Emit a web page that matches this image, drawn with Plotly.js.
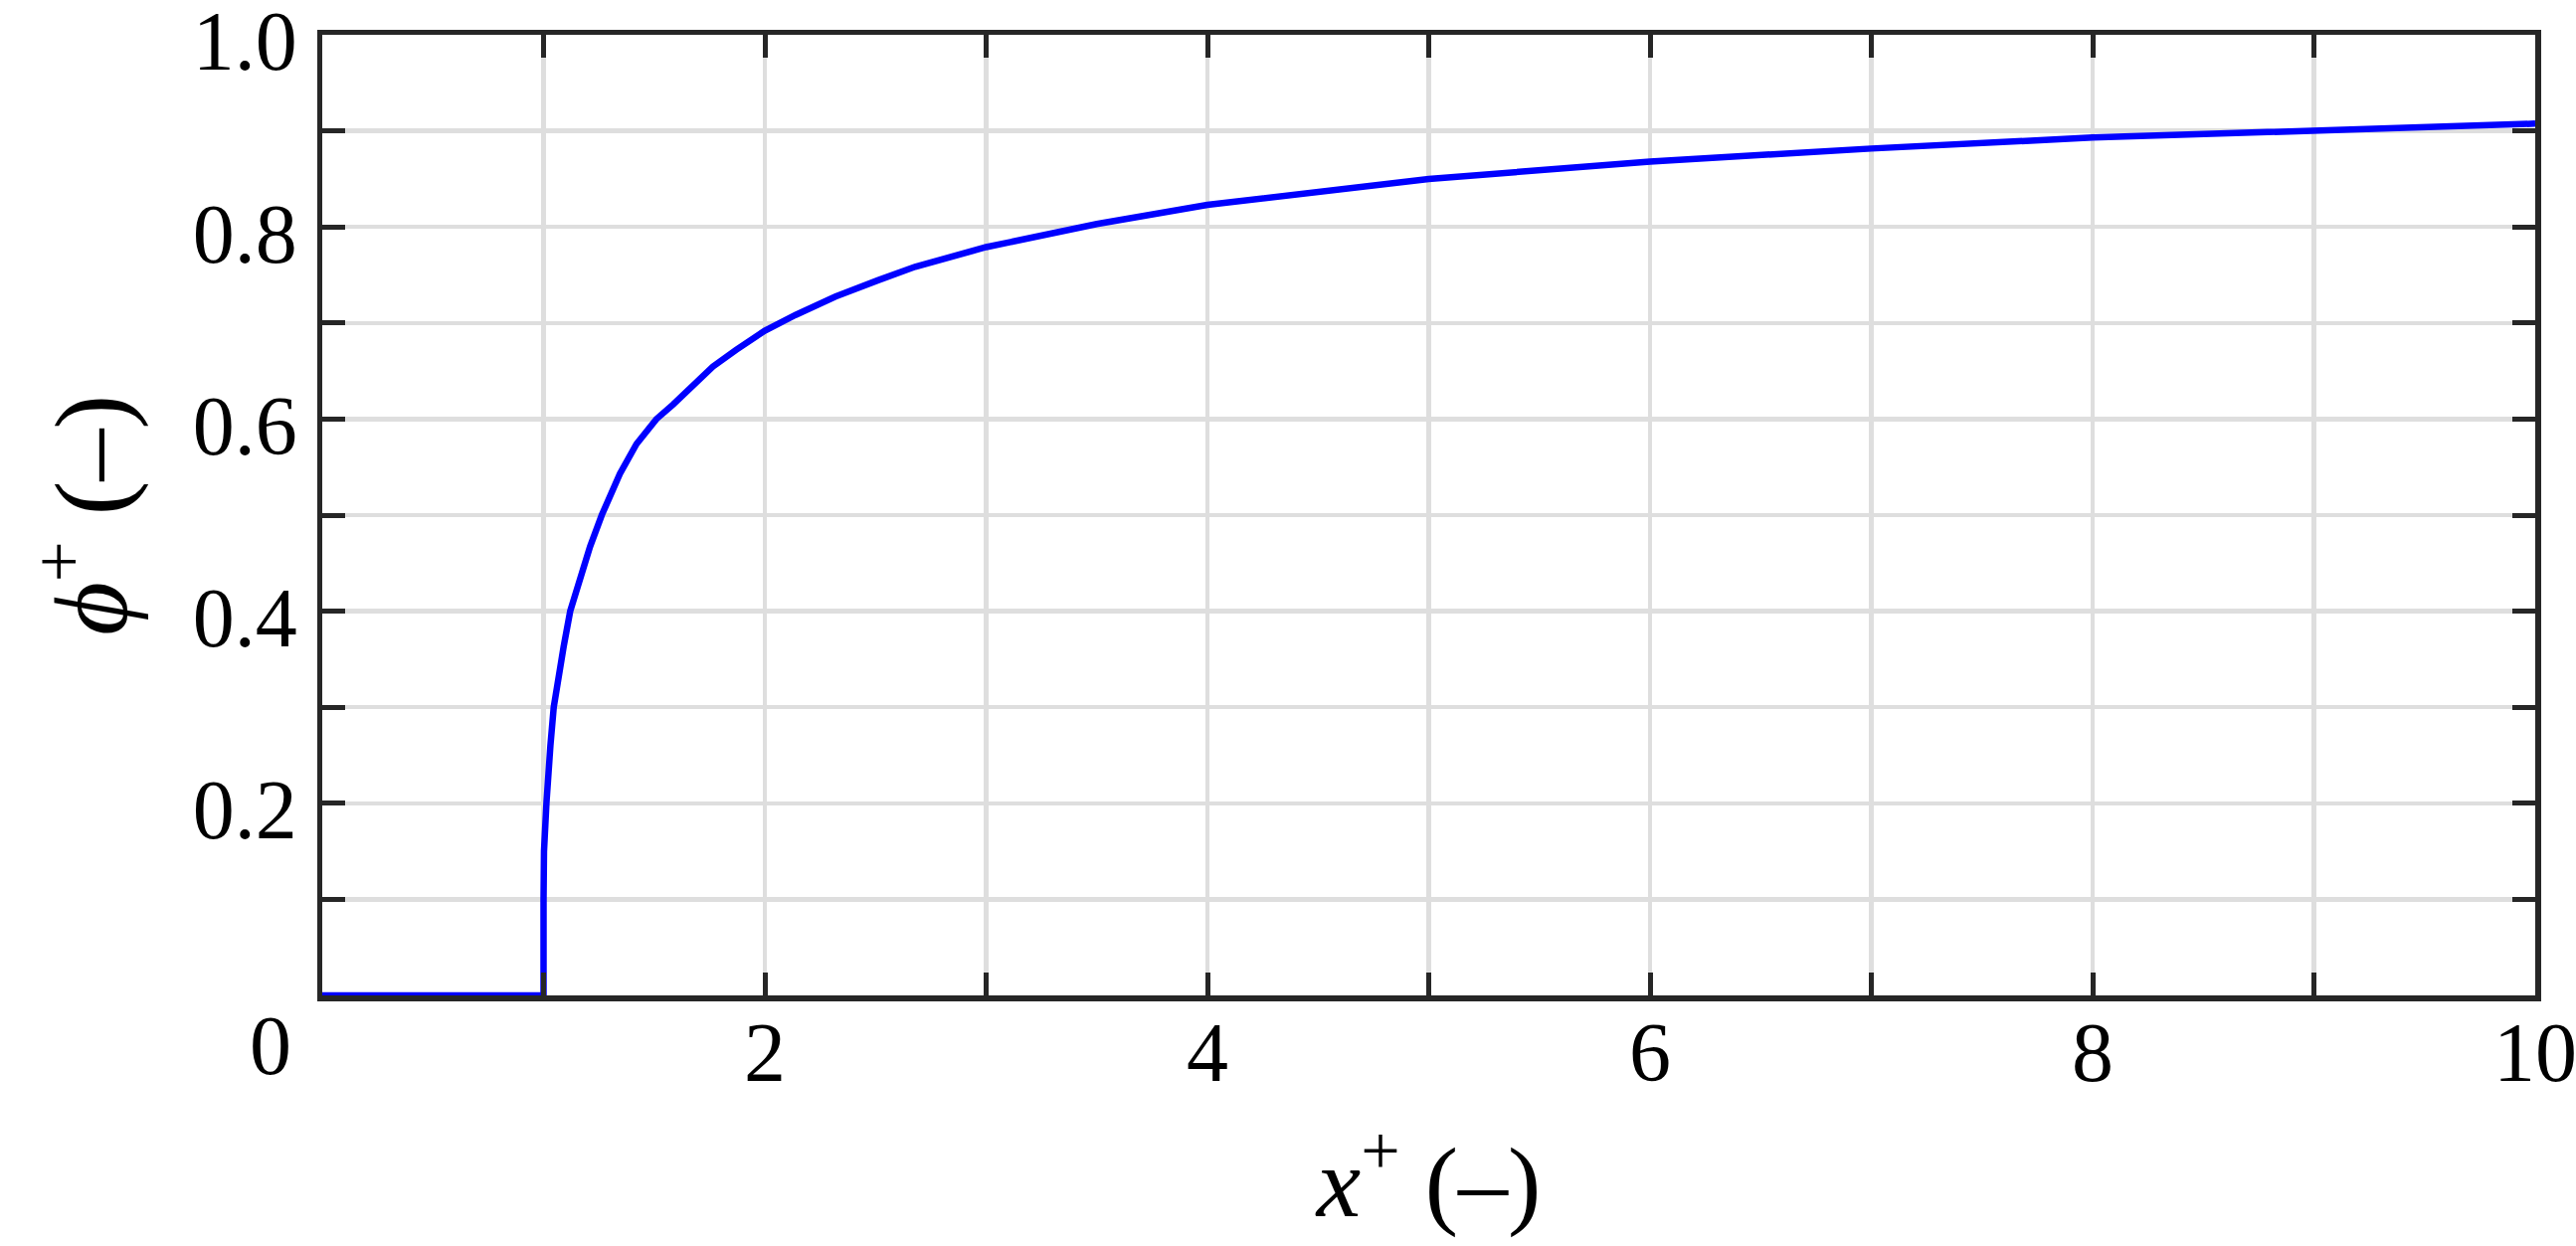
<!DOCTYPE html>
<html>
<head>
<meta charset="utf-8">
<script src="https://cdn.plot.ly/plotly-3.0.1.min.js"></script>
<style>
  html, body { margin: 0; padding: 0; background: #fff; }
  #chart { width: 2590px; height: 1253px; }
</style>
</head>
<body>
<div id="chart"></div>
<script>
// valores: x+ (–) y phi+ (–)
const xPlus = [0, 1.0, 1.0, 1.002, 1.013, 1.019, 1.031, 1.046, 1.064, 1.091, 1.1205,
  1.165, 1.21, 1.263, 1.345, 1.42, 1.51, 1.585, 1.69, 1.765, 1.87, 2.0, 2.139, 2.319, 2.514,
  2.679, 3, 3.5, 4, 4.5, 5, 6, 7, 8, 9, 10];
const phiPlus = [0, 0, 0.1, 0.15, 0.2, 0.2253, 0.26, 0.3, 0.329, 0.3634, 0.4,
  0.4324, 0.467, 0.5, 0.543, 0.574, 0.6, 0.615, 0.6394, 0.6546, 0.672, 0.692, 0.7084, 0.7274, 0.7447,
  0.7585, 0.779, 0.803, 0.823, 0.837, 0.85, 0.868, 0.8816, 0.893, 0.901, 0.9075];

// ticks
const xTickVals = [0, 1, 2, 3, 4, 5, 6, 7, 8, 9, 10];
const xTickText = ['', '', '2', '', '4', '', '6', '', '8', '', '10'];
const yTickVals = [0, 0.1, 0.2, 0.3, 0.4, 0.5, 0.6, 0.7, 0.8, 0.9, 1.0];
const yTickText = ['', '', '0.2', '', '0.4', '', '0.6', '', '0.8', '', '1.0'];

const serif = 'Liberation Serif, Times New Roman, serif';
const frameColor = '#262626';
const gridColor = '#dedede';

const axisCommon = {
  showline: true,
  linecolor: frameColor,
  linewidth: 5.5,
  mirror: 'ticks',
  ticks: 'inside',
  ticklen: 23,
  tickwidth: 5,
  tickcolor: frameColor,
  showgrid: true,
  gridcolor: gridColor,
  gridwidth: 4.5,
  zeroline: false,
  tickmode: 'array',
  ticklabeloverflow: 'allow',
  tickfont: { family: serif, size: 84, color: '#000' },
  automargin: false
};

const traces = [{
  x: xPlus,
  y: phiPlus,
  mode: 'lines',
  line: { color: '#0000ff', width: 6.5 },
  hoverinfo: 'x+y'
}];

const layout = {
  width: 2590,
  height: 1253,
  margin: { l: 324, r: 41, t: 35, b: 252 },
  paper_bgcolor: '#fff',
  plot_bgcolor: '#fff',
  showlegend: false,
  xaxis: Object.assign({}, axisCommon, {
    range: [0, 10],
    tickvals: xTickVals,
    ticktext: xTickText,
    ticklabelstandoff: -20,
    title: {
      text: '<i>x</i><sup>+</sup> (–)',
      font: { family: serif, size: 100, color: '#000' },
      standoff: 50
    }
  }),
  yaxis: Object.assign({}, axisCommon, {
    range: [0, 1],
    tickvals: yTickVals,
    ticktext: yTickText,
    ticklabelstandoff: 3,
    ticklabelshift: 6,
    title: {
      text: '<i>ϕ</i><sup>+</sup> (–)',
      font: { family: serif, size: 104, color: '#000' },
      standoff: 33
    }
  }),
  // el "0" del eje x aparece desplazado a la izquierda en el original
  annotations: [{
    x: 0, y: 0, xref: 'x', yref: 'paper',
    text: '0', showarrow: false,
    xanchor: 'center', yanchor: 'top',
    xshift: -52, yshift: -2,
    font: { family: serif, size: 84, color: '#000' }
  }]
};

Plotly.newPlot('chart', traces, layout, { staticPlot: true });
</script>
</body>
</html>
